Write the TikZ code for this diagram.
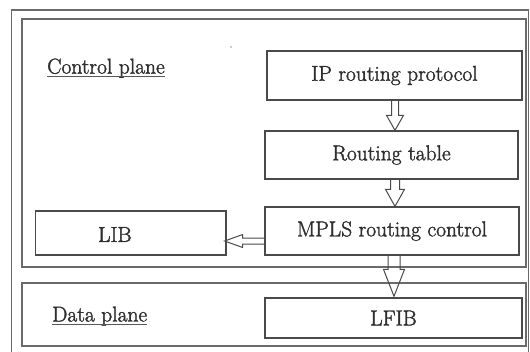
\documentclass[tikz,border=0pt]{standalone}
\usepackage{fontspec}
\newfontfamily\heavyserif{Latin Modern Roman}[FakeBold=1.6]
\usetikzlibrary{calc}
\definecolor{frame}{HTML}{6A6A6A}
\definecolor{boxline}{HTML}{4A4A4A}
\definecolor{ink}{HTML}{2E2E2E}
\tikzset{
  frameline/.style={draw=frame, line width=1.7pt},
  blk/.style={draw=boxline, line width=1.3pt, inner sep=0pt, text=ink,
    font=\heavyserif\fontsize{21.5}{24}\selectfont},
  lbl/.style={inner sep=0pt, text=ink, font=\heavyserif\fontsize{21.5}{24}\selectfont},
  fat/.style={draw=boxline, line width=1pt, line join=miter},
}
\newcommand\fatarrow[5]{%
  \coordinate (fah) at ($(#2)!#5!(#1)$);
  \draw[fat] ($(#1)!#3!90:(#2)$) -- ($(fah)!#3!90:(#2)$) -- ($(fah)!#4!90:(#2)$)
    -- (#2) -- ($(fah)!#4!-90:(#2)$) -- ($(fah)!#3!-90:(#2)$) -- ($(#1)!#3!-90:(#2)$);
}
\begin{document}
\begin{tikzpicture}[x=1pt,y=-1pt]
\useasboundingbox (0,0) rectangle (530,351);
\clip (0,0) rectangle (530,351);
\fill[white] (0,0) rectangle (530,351);
% outer frame
\draw[frameline] (11.5,360) -- (11.5,10) -- (528.5,10) -- (528.5,360);
% plane boxes
\draw[frameline] (22,19) rectangle (526,267);
\draw[frameline] (22,283) rectangle (526,346);
% stray dot
\fill[frame!70] (231,47) circle (0.9);
% labels
\node[lbl, anchor=base west] (cp) at (47,73.6) {Control plane};
\draw[ink!80, line width=1pt] ($(cp.base west)+(0,2.5)$) -- ($(cp.base east)+(0,2.5)$);
\node[lbl, anchor=base west] (dp) at (52,321.5) {Data plane};
\draw[ink!80, line width=1pt] ($(dp.base west)+(0,2.5)$) -- ($(dp.base east)+(0,2.5)$);
% blocks
\node[blk, minimum width=255, minimum height=49] (ip) at (394.5,75.5) {IP routing protocol};
\node[blk, minimum width=253, minimum height=48] (rt) at (391.5,155) {Routing table};
\node[blk, minimum width=254, minimum height=48] (mpls) at (392,231) {MPLS routing control};
\node[blk, minimum width=190.5, minimum height=44] (lib) at (130.75,233) {};
\node[lbl] (libt) at ($(lib.west)+(80,1.5)$) {LIB};
\node[blk, minimum width=257, minimum height=40] (lfib) at (393.5,318) {LFIB};
% arrows
\coordinate (ax) at (395,0);
\coordinate (bx) at (394,0);
\coordinate (a1s) at (ip.south -| ax);
\coordinate (a1e) at (rt.north -| ax);
\coordinate (a2s) at (rt.south -| ax);
\coordinate (a2e) at (mpls.north -| ax);
\coordinate (a3s) at (mpls.south -| bx);
\coordinate (a3e) at ($(lfib.north -| bx)+(0,-1)$);
\coordinate (a4s) at (mpls.west |- {0,241});
\coordinate (a4e) at ($(lib.east |- {0,241})+(-2,0)$);
\fatarrow{a1s}{a1e}{3.5pt}{8.5pt}{15pt}
\fatarrow{a2s}{a2e}{4.5pt}{9.5pt}{17pt}
\fatarrow{a3s}{a3e}{6pt}{10.5pt}{27pt}
\fatarrow{a4s}{a4e}{3pt}{6.5pt}{18pt}
\end{tikzpicture}
\end{document}
